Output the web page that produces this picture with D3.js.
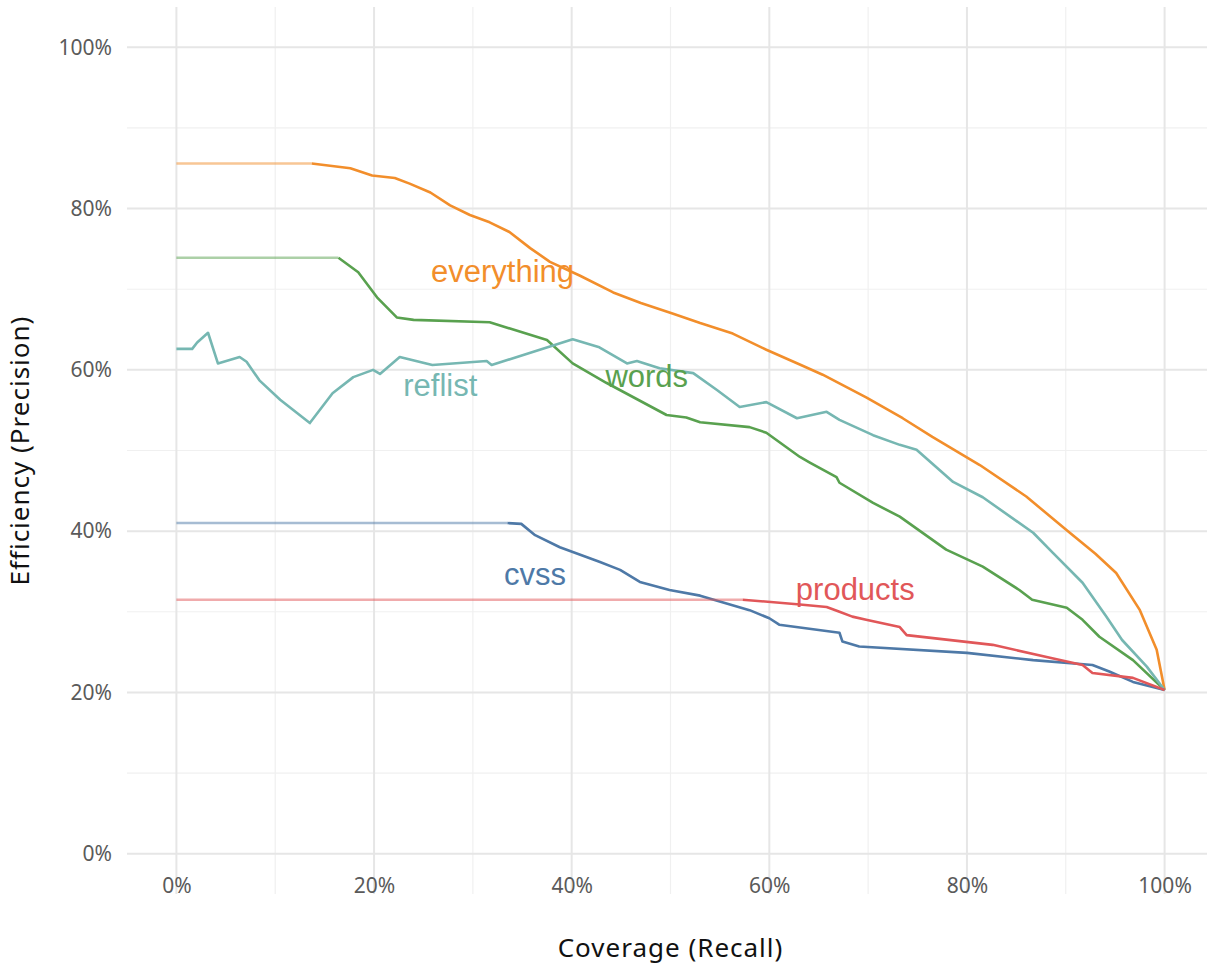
<!DOCTYPE html>
<html><head><meta charset="utf-8">
<script src="https://cdn.jsdelivr.net/npm/d3@7"></script>
<style>body{margin:0;background:#fff}svg{display:block}</style>
</head><body><svg id="c" width="1207" height="970"></svg>
<script>
// ---- data ----
const seriesNames = ["everything","words","reflist","cvss","products"];
const seriesColors = ["#F28E2B","#59A14F","#76B7B2","#4E79A7","#E15759"];
// value of the flat (interpolated) start and where the real curve begins
const flatLevel = [0.856, 0.739, null, 0.410, 0.315];
const flatUntil = [0.137, 0.164, null, 0.335, 0.573];
const everything = [[0.137,0.856],[0.176,0.850],[0.198,0.841],[0.221,0.838],[0.236,0.831],[0.257,0.820],[0.277,0.804],[0.297,0.792],[0.317,0.783],[0.337,0.771],[0.358,0.751],[0.378,0.734],[0.408,0.717],[0.442,0.696],[0.470,0.683],[0.502,0.670],[0.530,0.658],[0.563,0.645],[0.597,0.625],[0.632,0.606],[0.654,0.594],[0.698,0.566],[0.735,0.540],[0.765,0.517],[0.813,0.482],[0.860,0.443],[0.901,0.401],[0.930,0.372],[0.951,0.348],[0.975,0.302],[0.992,0.253],[1.0,0.203]];
const words = [[0.164,0.739],[0.184,0.721],[0.203,0.690],[0.223,0.665],[0.240,0.662],[0.317,0.659],[0.375,0.637],[0.401,0.608],[0.435,0.584],[0.496,0.544],[0.516,0.541],[0.530,0.535],[0.580,0.529],[0.597,0.522],[0.631,0.492],[0.641,0.485],[0.668,0.467],[0.671,0.460],[0.705,0.435],[0.732,0.418],[0.779,0.377],[0.816,0.356],[0.853,0.327],[0.866,0.315],[0.901,0.305],[0.917,0.290],[0.934,0.269],[0.968,0.240],[1.0,0.203]];
const reflist = [[0.0,0.626],[0.016,0.626],[0.021,0.634],[0.032,0.646],[0.042,0.608],[0.064,0.616],[0.071,0.610],[0.084,0.587],[0.105,0.563],[0.135,0.534],[0.158,0.571],[0.179,0.591],[0.199,0.600],[0.206,0.595],[0.226,0.616],[0.259,0.606],[0.314,0.611],[0.319,0.606],[0.401,0.638],[0.428,0.628],[0.456,0.608],[0.466,0.611],[0.489,0.602],[0.523,0.596],[0.547,0.575],[0.570,0.554],[0.597,0.560],[0.628,0.540],[0.658,0.548],[0.671,0.538],[0.705,0.519],[0.732,0.507],[0.749,0.501],[0.786,0.461],[0.816,0.442],[0.867,0.398],[0.887,0.373],[0.917,0.336],[0.941,0.294],[0.957,0.265],[0.982,0.232],[1.0,0.203]];
const cvss = [[0.335,0.410],[0.349,0.409],[0.363,0.395],[0.388,0.380],[0.428,0.362],[0.449,0.352],[0.469,0.337],[0.499,0.327],[0.530,0.320],[0.580,0.302],[0.600,0.292],[0.610,0.284],[0.671,0.274],[0.674,0.263],[0.691,0.257],[0.800,0.249],[0.867,0.240],[0.927,0.234],[0.944,0.226],[0.968,0.213],[1.0,0.203]];
const products = [[0.573,0.315],[0.631,0.309],[0.658,0.306],[0.671,0.300],[0.684,0.294],[0.698,0.290],[0.732,0.281],[0.739,0.271],[0.826,0.259],[0.884,0.243],[0.917,0.234],[0.927,0.224],[0.968,0.218],[1.0,0.203]];
const seriesData = [everything, words, reflist, cvss, products];
const labelX = [0.330, 0.476, 0.267, 0.363, 0.687];
const labelY = [0.722, 0.592, 0.581, 0.347, 0.328];
const xTicks = [0,0.2,0.4,0.6,0.8,1.0];
const yTicks = [0,0.2,0.4,0.6,0.8,1.0];
const xMinor = [0.1,0.3,0.5,0.7,0.9];
const yMinor = [0.1,0.3,0.5,0.7,0.9];
const xTitle = "Coverage (Recall)";
const yTitle = "Efficiency (Precision)";

// ---- drawing ----
const svg = d3.select("#c");
const x = d3.scaleLinear().domain([-0.05,1.05]).range([127,1214]);
const y = d3.scaleLinear().domain([-0.05,1.05]).range([894,7]);
const fmt = d3.format(".0%");
const tickFont = "'Noto Sans', sans-serif";

const grid = svg.append("g");
grid.selectAll(".vmin").data(xMinor).join("line")
  .attr("x1",d=>x(d)).attr("x2",d=>x(d)).attr("y1",y.range()[0]).attr("y2",y.range()[1])
  .attr("stroke","#f0f0f0").attr("stroke-width",1.2);
grid.selectAll(".hmin").data(yMinor).join("line")
  .attr("y1",d=>y(d)).attr("y2",d=>y(d)).attr("x1",x.range()[0]).attr("x2",x.range()[1])
  .attr("stroke","#f0f0f0").attr("stroke-width",1.2);
grid.selectAll(".vmaj").data(xTicks).join("line")
  .attr("x1",d=>x(d)).attr("x2",d=>x(d)).attr("y1",y.range()[0]).attr("y2",y.range()[1])
  .attr("stroke","#e6e6e6").attr("stroke-width",2);
grid.selectAll(".hmaj").data(yTicks).join("line")
  .attr("y1",d=>y(d)).attr("y2",d=>y(d)).attr("x1",x.range()[0]).attr("x2",x.range()[1])
  .attr("stroke","#e6e6e6").attr("stroke-width",2);

// axes (text only, as in theme_minimal)
const xAxis = svg.append("g").attr("transform",`translate(0,${y.range()[0]})`)
  .call(d3.axisBottom(x).tickValues(xTicks).tickFormat(fmt).tickSize(0).tickPadding(0));
xAxis.select(".domain").remove();
xAxis.selectAll("text").attr("font-family",tickFont).attr("font-size",21).attr("fill","#5a5a5a")
  .attr("y",-1).attr("dy","0");
const yAxis = svg.append("g").attr("transform",`translate(${x.range()[0]},0)`)
  .call(d3.axisLeft(y).tickValues(yTicks).tickFormat(fmt).tickSize(0).tickPadding(15));
yAxis.select(".domain").remove();
yAxis.selectAll("text").attr("font-family",tickFont).attr("font-size",21).attr("fill","#5a5a5a");

svg.append("text").attr("x",(x(0)+x(1))/2).attr("y",957).attr("text-anchor","middle")
  .attr("font-family",tickFont).attr("font-size",26).attr("letter-spacing",1).attr("fill","#111").text(xTitle);
svg.append("text").attr("transform",`translate(29,${(y(0)+y(1))/2}) rotate(-90)`).attr("text-anchor","middle")
  .attr("font-family",tickFont).attr("font-size",26).attr("letter-spacing",1).attr("fill","#111").text(yTitle);

const line = d3.line().x(d=>x(d[0])).y(d=>y(d[1]));
seriesNames.forEach((name,i)=>{
  if (flatLevel[i] !== null) {
    svg.append("path").datum([[0,flatLevel[i]],[flatUntil[i],flatLevel[i]]])
      .attr("d",line).attr("fill","none").attr("stroke",seriesColors[i])
      .attr("stroke-width",2.4).attr("stroke-opacity",0.5);
  }
  svg.append("path").datum(seriesData[i]).attr("d",line).attr("fill","none")
    .attr("stroke",seriesColors[i]).attr("stroke-width",2.6).attr("stroke-linejoin","round");
});
seriesNames.forEach((name,i)=>{
  svg.append("text").attr("x",x(labelX[i])).attr("y",y(labelY[i])).attr("dy","0.35em")
    .attr("text-anchor","middle").attr("font-family","'Liberation Sans', Arial, sans-serif")
    .attr("font-size",31).attr("fill",seriesColors[i]).text(name);
});
</script></body></html>
